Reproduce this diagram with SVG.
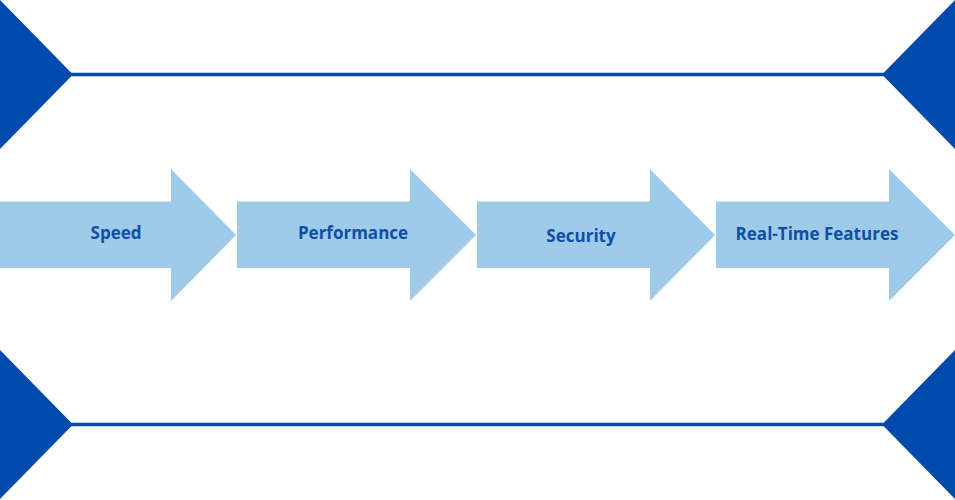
<svg xmlns="http://www.w3.org/2000/svg" width="955" height="500" viewBox="0 0 955 500">
<style>
.tri{fill:#004aad}
.rule{stroke:#004aad;stroke-width:3.5;fill:none}
.arr{fill:#9fcbea}
.lbl{font-family:"Open Sans","Liberation Sans",Arial,sans-serif;font-weight:700;font-size:17px;fill:#0f4fa8;text-anchor:middle}
</style>
<rect width="955" height="500" fill="#ffffff"/>
<g id="decor-top">
<polygon class="tri" points="0,0 73,74.5 0,149"/>
<polygon class="tri" points="955,0 882,74.5 955,149"/>
<line class="rule" x1="70" y1="74.5" x2="885" y2="74.5"/>
</g>
<g id="decor-bottom">
<polygon class="tri" points="0,350 73,424.5 0,499"/>
<polygon class="tri" points="955,350 882,424.5 955,499"/>
<line class="rule" x1="70" y1="424.5" x2="885" y2="424.5"/>
</g>
<g id="connectors"></g>
<g id="speed">
<polygon class="arr" points="0,201.5 171,201.5 171,169 236,235 171,301 171,268 0,268"/>
<text class="lbl" x="116" y="239">Speed</text>
</g>
<g id="performance">
<polygon class="arr" points="237,201.5 410,201.5 410,169 476,235 410,301 410,268 237,268"/>
<text class="lbl" x="353" y="239">Performance</text>
</g>
<g id="security">
<polygon class="arr" points="477,201.5 650,201.5 650,169 715,235 650,301 650,268 477,268"/>
<text class="lbl" x="581" y="242">Security</text>
</g>
<g id="real-time-features">
<polygon class="arr" points="716,201.5 889,201.5 889,169 955,235 889,301 889,268 716,268"/>
<text class="lbl" x="817" y="240">Real-Time Features</text>
</g>
</svg>
